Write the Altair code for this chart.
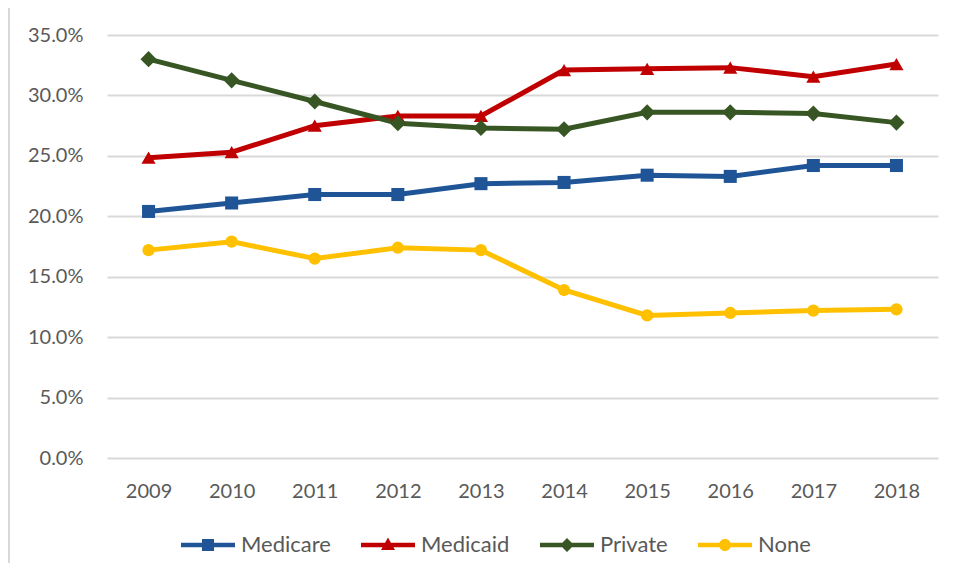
import altair as alt
import pandas as pd

years = [str(y) for y in range(2009, 2019)]
series = ["Medicare", "Medicaid", "Private", "None"]
medicare = [20.4, 21.1, 21.8, 21.8, 22.7, 22.8, 23.4, 23.3, 24.2, 24.2]
medicaid = [24.85, 25.3, 27.5, 28.3, 28.3, 32.1, 32.2, 32.3, 31.55, 32.6]
private = [33.0, 31.25, 29.5, 27.7, 27.3, 27.2, 28.6, 28.6, 28.5, 27.75]
none_ = [17.2, 17.9, 16.5, 17.4, 17.2, 13.9, 11.8, 12.0, 12.2, 12.3]
y_ticks = [0, 5, 10, 15, 20, 25, 30, 35]

colors = ["#1F5597", "#C00000", "#375623", "#FFC000"]
marker_shapes = ["square", "triangle-up", "diamond", "circle"]
marker_sizes = [170, 200, 260, 150]
LINE = "M-5.4,-0.45H5.4V0.45H-5.4Z "
legend_shapes = [
    LINE + "M-1.2,-1.2H1.2V1.2H-1.2Z",
    LINE + "M0,-1.5L1.4,1.0H-1.4Z",
    LINE + "M0,-1.4L1.4,0L0,1.4L-1.4,0Z",
    LINE + "M-1.2,0A1.2,1.2,0,1,1,1.2,0A1.2,1.2,0,1,1,-1.2,0Z",
]

rows = []
for name, vals, shp, sz in zip(series, [medicare, medicaid, private, none_],
                               marker_shapes, marker_sizes):
    for yr, v in zip(years, vals):
        rows.append({"year": yr, "series": name, "value": v, "marker": shp, "msize": sz})
df = pd.DataFrame(rows)

FONT = "Lato"
GREY = "#595959"

x_enc = alt.X("year:O", scale=alt.Scale(type="point", padding=0.5), sort=years,
              axis=alt.Axis(title=None, labelAngle=0, domain=False, ticks=False, grid=False,
                            labelPadding=23, labelFontSize=20, labelColor=GREY, labelFont=FONT))
y_enc = alt.Y("value:Q", scale=alt.Scale(domain=[0, 35], nice=False),
              axis=alt.Axis(title=None, values=y_ticks, domain=False, ticks=False,
                            labelExpr="format(datum.value, '.1f') + '%'",
                            labelPadding=24, labelFontSize=20, labelColor=GREY, labelFont=FONT,
                            gridColor="#d9d9d9", gridWidth=2))


def color_scale():
    return alt.Scale(domain=series, range=colors)


legend_def = alt.Legend(title=None, orient="none", direction="horizontal",
                        legendX=90, legendY=499, symbolSize=100,
                        symbolOpacity=1, symbolStrokeWidth=0,
                        labelOffset=22, columnPadding=30, padding=0,
                        labelFontSize=22, labelColor=GREY, labelFont=FONT)

base = alt.Chart(df)

lines = base.mark_line(strokeWidth=5).encode(
    x=x_enc, y=y_enc,
    color=alt.Color("series:N", scale=color_scale(), legend=None),
)

points = base.mark_point(filled=True, opacity=1).encode(
    x=x_enc, y=y_enc,
    color=alt.Color("series:N", scale=color_scale(), legend=None),
    shape=alt.Shape("marker:N", scale=None, legend=None),
    size=alt.Size("msize:Q", scale=None, legend=None),
)

legend_layer = base.mark_point(filled=True, opacity=0).encode(
    x=x_enc, y=y_enc,
    color=alt.Color("series:N", scale=color_scale(), legend=legend_def),
    shape=alt.Shape("series:N", scale=alt.Scale(domain=series, range=legend_shapes),
                    legend=legend_def),
)

border = alt.Chart(pd.DataFrame({"a": [0]})).mark_rule(color="#d9d9d9", strokeWidth=2).encode(
    x=alt.value(-98), x2=alt.value(-98), y=alt.value(-27), y2=alt.value(528)
)

chart = alt.layer(lines, points, legend_layer, border).resolve_scale(
    color="independent", shape="independent", size="independent"
).properties(
    width=831, height=423,
    background="white",
    autosize=alt.AutoSizeParams(type="none"),
    padding={"left": 99, "top": 27, "right": 11, "bottom": 105},
).configure_view(stroke=None, strokeWidth=0, fill=None)

chart.save("out.html", embed_options={"renderer": "svg", "actions": False})
